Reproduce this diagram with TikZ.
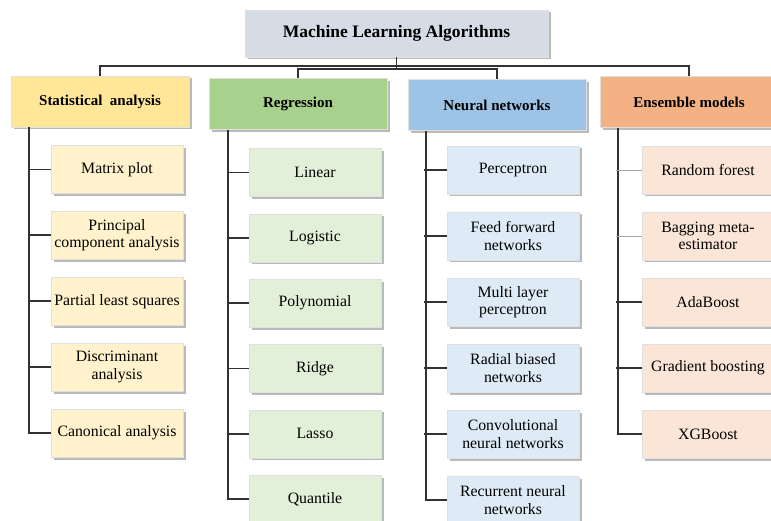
\documentclass[tikz,border=0pt]{standalone}
\usepackage{fontspec}
\setmainfont{Liberation Serif}
\usetikzlibrary{calc,shadows}
\definecolor{topcol}{RGB}{214,220,229}
\definecolor{statcol}{RGB}{255,230,153}
\definecolor{regcol}{RGB}{169,209,142}
\definecolor{neurcol}{RGB}{157,195,230}
\definecolor{enscol}{RGB}{244,177,131}
\definecolor{statleaf}{RGB}{255,242,204}
\definecolor{regleaf}{RGB}{226,240,217}
\definecolor{neurleaf}{RGB}{222,235,247}
\definecolor{ensleaf}{RGB}{251,229,214}
\definecolor{linecol}{RGB}{50,50,50}
\tikzset{
  box/.style={draw=black!12,line width=.4pt,inner sep=1pt,align=center,
    drop shadow={shadow xshift=2.5pt,shadow yshift=-2.5pt,fill=black!45,opacity=.6}},
  headbox/.style={box,fill=topcol,minimum width=303pt,minimum height=47pt,
    font=\bfseries\fontsize{17.5}{20}\selectfont},
  catbox/.style={box,fill=#1,minimum width=178pt,minimum height=51pt,
    font=\bfseries\fontsize{15}{18}\selectfont},
  leafbox/.style={box,fill=#1,minimum width=132pt,minimum height=48pt,
    font=\fontsize{15.8}{17.5}\selectfont},
  conn/.style={draw=linecol,line width=1.8pt},
}
\begin{document}
\begin{tikzpicture}[x=1pt,y=-1pt]
  \useasboundingbox (0,0) rectangle (771,521);
  % Kopf
  \node[headbox] (top) at (396.5,33.5) {Machine Learning Algorithms};
  % Kategorien
  \node[catbox=statcol] (stat) at (100,101.5) {Statistical\ \ analysis};
  \node[catbox=regcol] (reg) at (298,104) {Regression};
  \node[catbox=neurcol] (neur) at (497,105) {Neural networks};
  \node[catbox=enscol] (ens) at (689,102) {Ensemble models};
  % Verbindungen oben
  \draw[conn] (stat.north) -- (stat.north |- 0,66) -- (ens.north |- 0,66) -- (ens.north);
  \draw[conn] (top.south) -- (top.south |- 0,69);
  \draw[conn] (reg.north) |- (top.south |- 0,69) -| (neur.north);
  % Blaetter
  \foreach \t [count=\i] in {Matrix plot,{Principal\\component analysis},Partial least squares,
      {Discriminant\\analysis},Canonical analysis}
    \node[leafbox=statleaf] (s\i) at (117,{169.5+65.9*(\i-1)}) {\t};
  \foreach \t [count=\i] in {Linear,Logistic,Polynomial,Ridge,Lasso,Quantile}
    \node[leafbox=regleaf] (r\i) at (315,{172.5+65.3*(\i-1)}) {\t};
  \foreach \t [count=\i] in {Perceptron,{Feed forward\\networks},{Multi layer\\perceptron},
      {Radial biased\\networks},{Convolutional\\neural networks},{Recurrent neural\\networks}}
    \node[leafbox=neurleaf] (n\i) at (513,{170+66*(\i-1)}) {\t};
  \foreach \t [count=\i] in {Random forest,{Bagging meta-\\estimator},AdaBoost,
      Gradient boosting,XGBoost}
    \node[leafbox=ensleaf] (e\i) at (708,{170+66*(\i-1)}) {\t};
  % Staemme
  \draw[conn] ($(stat.south west)+(18,0)$) |- (s5.west);
  \draw[conn] ($(reg.south west)+(19,0)$) |- (r6.west);
  \draw[conn] ($(neur.south west)+(18,0)$) |- (n6.west);
  \draw[conn] ($(ens.south west)+(18,0)$) |- (e5.west);
  % Seitenstriche
  \foreach \i in {1,...,4} \draw[conn] (s\i.west) -- ++(-21,0);
  \foreach \i in {1,...,5} \draw[conn] (r\i.west) -- ++(-21,0);
  \foreach \i in {1,...,5} \draw[conn] (n\i.west) -- ++(-23,0);
  \foreach \i in {1,2} \draw[black!35,line width=.8pt] (e\i.west) -- ++(-26,0);
  \foreach \i in {3,4} \draw[conn] (e\i.west) -- ++(-26,0);
\end{tikzpicture}
\end{document}
